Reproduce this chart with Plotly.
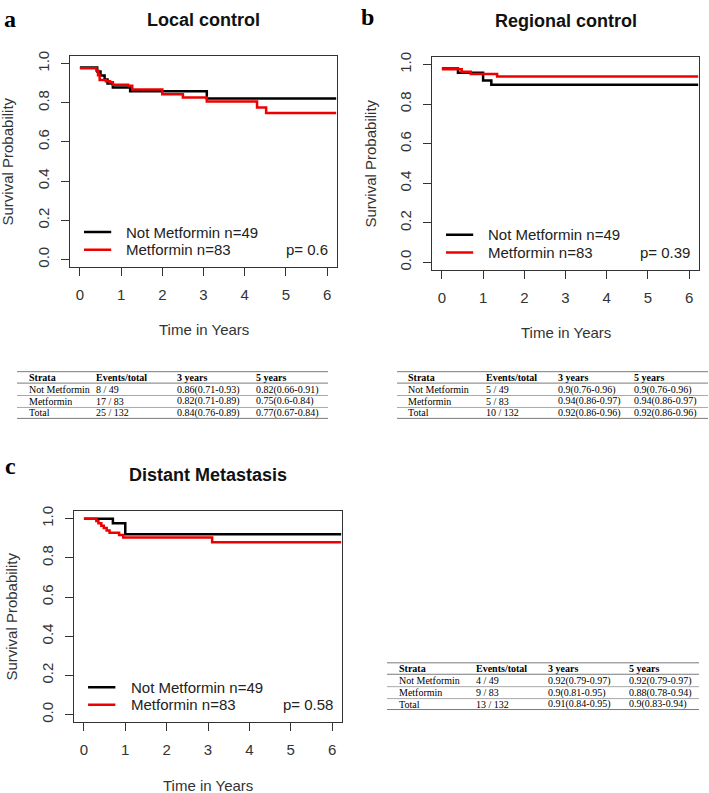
import plotly.graph_objects as go

W, H = 709, 793

# ---------------- data ----------------
# Panel a: Local control
a_not_t = [0, 0.42, 0.50, 0.60, 0.67, 0.80, 1.22, 3.08, 6.22]
a_not_s = [0.980, 0.959, 0.939, 0.918, 0.898, 0.878, 0.858, 0.822, 0.822]
a_met_t = [0, 0.40, 0.44, 0.48, 0.63, 0.73, 0.80, 1.17, 1.27, 2.00, 2.50, 3.08, 4.30, 4.52, 6.22]
a_met_s = [0.976, 0.964, 0.940, 0.916, 0.910, 0.904, 0.892, 0.886, 0.868, 0.843, 0.827, 0.806, 0.776, 0.748, 0.748]

# Panel b: Regional control
b_not_t = [0, 0.39, 1.00, 1.20, 6.22]
b_not_s = [0.980, 0.959, 0.920, 0.898, 0.898]
b_met_t = [0, 0.48, 0.70, 1.34, 6.22]
b_met_s = [0.976, 0.964, 0.952, 0.940, 0.940]

# Panel c: Distant Metastasis
c_not_t = [0, 0.70, 1.00, 6.22]
c_not_s = [1.0, 0.977, 0.920, 0.920]
c_met_t = [0, 0.30, 0.35, 0.42, 0.48, 0.55, 0.62, 0.85, 0.95, 3.10, 6.22]
c_met_s = [1.0, 0.988, 0.976, 0.964, 0.952, 0.940, 0.928, 0.916, 0.904, 0.880, 0.880]

titles = ["Local control", "Regional control", "Distant Metastasis"]
panel_letters = ["a", "b", "c"]
legend_labels = ["Not Metformin n=49", "Metformin n=83"]
p_values = ["p= 0.6", "p= 0.39", "p= 0.58"]
x_ticks = [0, 1, 2, 3, 4, 5, 6]
y_ticks = [0.0, 0.2, 0.4, 0.6, 0.8, 1.0]
y_tick_labels = ["0.0", "0.2", "0.4", "0.6", "0.8", "1.0"]

tab_header = ["Strata", "Events/total", "3 years", "5 years"]
tab_a_rows = [["Not Metformin", "8 / 49", "0.86(0.71-0.93)", "0.82(0.66-0.91)"],
              ["Metformin", "17 / 83", "0.82(0.71-0.89)", "0.75(0.6-0.84)"],
              ["Total", "25 / 132", "0.84(0.76-0.89)", "0.77(0.67-0.84)"]]
tab_b_rows = [["Not Metformin", "5 / 49", "0.9(0.76-0.96)", "0.9(0.76-0.96)"],
              ["Metformin", "5 / 83", "0.94(0.86-0.97)", "0.94(0.86-0.97)"],
              ["Total", "10 / 132", "0.92(0.86-0.96)", "0.92(0.86-0.96)"]]
tab_c_rows = [["Not Metformin", "4 / 49", "0.92(0.79-0.97)", "0.92(0.79-0.97)"],
              ["Metformin", "9 / 83", "0.9(0.81-0.95)", "0.88(0.78-0.94)"],
              ["Total", "13 / 132", "0.91(0.84-0.95)", "0.9(0.83-0.94)"]]

# ---------------- layout geometry (pixels) ----------------
boxes = [(70, 51, 337, 264), (432, 52, 699, 267), (74, 509, 342, 722)]
tables = [  # left, right, top, column x positions
    (17, 328, 369, [27, 94, 175, 254]),
    (397, 708, 369, [406, 484, 556, 632]),
    (387, 699, 662, [397, 474, 546, 627]),
]
letter_pos = [(2, 14), (359, 12), (3, 464)]
xtitle_off = 63

def px(x):
    return x / W

def py(y):
    return 1 - y / H

fig = go.Figure()
FONT = "Liberation Sans, Arial, sans-serif"
SERIF = "Liberation Serif, Times New Roman, serif"
AX = "#333333"
RED = "#ee0000"

series = [(a_not_t, a_not_s, a_met_t, a_met_s),
          (b_not_t, b_not_s, b_met_t, b_met_s),
          (c_not_t, c_not_s, c_met_t, c_met_s)]

annotations = []
shapes = []

for i, (box, ser) in enumerate(zip(boxes, series)):
    l, t, r, b = box
    sfx = "" if i == 0 else str(i + 1)
    xa, ya = "x" + sfx, "y" + sfx
    nt, ns, mt, ms = ser
    fig.add_trace(go.Scatter(x=nt, y=ns, mode="lines", line=dict(color="black", width=2.5, shape="hv"),
                             xaxis=xa, yaxis=ya, showlegend=False, hoverinfo="skip"))
    fig.add_trace(go.Scatter(x=mt, y=ms, mode="lines", line=dict(color=RED, width=2.5, shape="hv"),
                             xaxis=xa, yaxis=ya, showlegend=False, hoverinfo="skip"))
    common = dict(showgrid=False, zeroline=False, showline=True, mirror=True, linecolor=AX, linewidth=1,
                  ticks="outside", ticklen=8, tickcolor=AX, tickwidth=1,
                  tickfont=dict(family=FONT, size=15, color=AX))
    fig.update_layout(**{
        "xaxis" + sfx: dict(domain=[px(l), px(r)], range=[-0.24, 6.24], anchor=ya,
                            tickvals=x_ticks, ticklabelstandoff=6, **common),
        "yaxis" + sfx: dict(domain=[py(b), py(t)], range=[-0.04, 1.04], anchor=xa,
                            tickvals=y_ticks, ticktext=y_tick_labels, tickangle=-90,
                            ticklabelstandoff=6, **common),
    })
    cx = (l + r) / 2
    # title
    annotations.append(dict(x=px(cx), y=py(t - 36), xref="paper", yref="paper", text="<b>%s</b>" % titles[i],
                            showarrow=False, font=dict(family=FONT, size=18, color="#111"),
                            xanchor="center", yanchor="middle"))
    # axis titles
    annotations.append(dict(x=px(cx), y=py(b + xtitle_off), xref="paper", yref="paper", text="Time in Years",
                            showarrow=False, font=dict(family=FONT, size=15, color=AX),
                            xanchor="center", yanchor="middle"))
    annotations.append(dict(x=px(l - 62), y=py((t + b) / 2), xref="paper", yref="paper",
                            text="Survival Probability", textangle=-90,
                            showarrow=False, font=dict(family=FONT, size=15, color=AX),
                            xanchor="center", yanchor="middle"))
    # legend
    for j, (lab, col, yy) in enumerate(zip(legend_labels, ["black", RED], [0.140, 0.050])):
        shapes.append(dict(type="line", xref=xa, yref=ya, x0=0.10, x1=0.76, y0=yy, y1=yy,
                           line=dict(color=col, width=2.5)))
        annotations.append(dict(x=1.08, y=yy, xref=xa, yref=ya, text=lab, showarrow=False,
                                font=dict(family=FONT, size=15, color="#222"),
                                xanchor="left", yanchor="middle"))
    annotations.append(dict(x=6.08, y=0.050, xref=xa, yref=ya, text=p_values[i], showarrow=False,
                            font=dict(family=FONT, size=15, color="#222"),
                            xanchor="right", yanchor="middle"))
    # panel letter
    lx, ly = letter_pos[i]
    annotations.append(dict(x=px(lx), y=py(ly), xref="paper", yref="paper", text="<b>%s</b>" % panel_letters[i],
                            showarrow=False, font=dict(family=SERIF, size=24, color="black"),
                            xanchor="left", yanchor="middle"))

# tables
for (tl, tr, tt, cols), rows in zip(tables, [tab_a_rows, tab_b_rows, tab_c_rows]):
    line_off = [0, 11.5, 24, 36, 47]
    for k, off in enumerate(line_off):
        shapes.append(dict(type="line", xref="paper", yref="paper", x0=px(tl), x1=px(tr),
                           y0=py(tt + off), y1=py(tt + off),
                           line=dict(color="#7a7a7a" if k in (0, 1, 4) else "#a8a8a8", width=1)))
    row_y = [tt + 6, tt + 18, tt + 30, tt + 41.5]
    all_rows = [tab_header] + rows
    for ri, (row, yy) in enumerate(zip(all_rows, row_y)):
        for cx_, txt in zip(cols, row):
            annotations.append(dict(x=px(cx_), y=py(yy), xref="paper", yref="paper",
                                    text=("<b>%s</b>" % txt) if ri == 0 else txt, showarrow=False,
                                    font=dict(family=SERIF, size=10, color="#000"),
                                    xanchor="left", yanchor="middle"))

fig.update_layout(width=W, height=H, autosize=False, margin=dict(l=0, r=0, t=0, b=0),
                  paper_bgcolor="white", plot_bgcolor="white", hovermode=False,
                  annotations=annotations, shapes=shapes, showlegend=False)

fig.write_html("out.html", config={"displayModeBar": False, "staticPlot": True},
               post_script="document.body.style.margin='0px';document.body.style.padding='0px';"
                           "document.body.style.overflow='hidden';")
